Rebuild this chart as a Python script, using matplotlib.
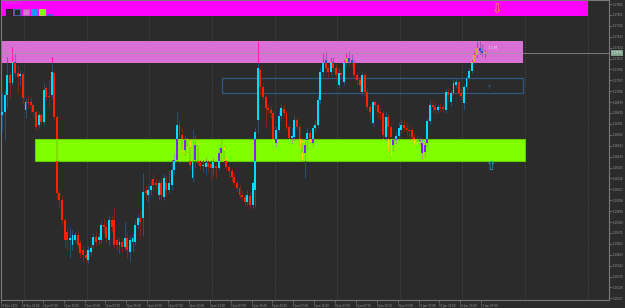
import matplotlib
matplotlib.use('Agg')
import matplotlib.pyplot as plt
import matplotlib.colors as mcolors
from matplotlib.patches import Rectangle
from matplotlib.transforms import blended_transform_factory
import numpy as np

# H1 candles (price per bar)
opens = [1.2685, 1.2688, 1.2705, 1.2725, 1.2717, 1.2738, 1.2727, 1.2724, 1.2726, 1.2690,
         1.2698, 1.2698, 1.2695, 1.2688, 1.2675, 1.2685, 1.2678, 1.2712, 1.2704, 1.2705,
         1.2727, 1.2683, 1.2607, 1.2600, 1.2580, 1.2568, 1.2560, 1.2555, 1.2560, 1.2565,
         1.2557, 1.2550, 1.2545, 1.2540, 1.2548, 1.2555, 1.2563, 1.2560, 1.2560, 1.2575,
         1.2573, 1.2560, 1.2580, 1.2580, 1.2560, 1.2555, 1.2558, 1.2553, 1.2562, 1.2548,
         1.2558, 1.2558, 1.2575, 1.2582, 1.2582, 1.2609, 1.2605, 1.2610, 1.2621, 1.2617,
         1.2605, 1.2617, 1.2603, 1.2617, 1.2610, 1.2615, 1.2630, 1.2640, 1.2675, 1.2665,
         1.2650, 1.2660, 1.2653, 1.2622, 1.2640, 1.2655, 1.2637, 1.2634, 1.2633, 1.2637,
         1.2636, 1.2632, 1.2634, 1.2632, 1.2647, 1.2650, 1.2640, 1.2633, 1.2629, 1.2623,
         1.2617, 1.2612, 1.2605, 1.2603, 1.2598, 1.2604, 1.2595, 1.2610, 1.2680, 1.2730,
         1.2713, 1.2703, 1.2692, 1.2690, 1.2687, 1.2657, 1.2670, 1.2684, 1.2691, 1.2687,
         1.2673, 1.2662, 1.2663, 1.2680, 1.2673, 1.2657, 1.2647, 1.2660, 1.2667, 1.2657,
         1.2672, 1.2675, 1.2700, 1.2728, 1.2740, 1.2732, 1.2728, 1.2738, 1.2732, 1.2715,
         1.2727, 1.2718, 1.2737, 1.2742, 1.2740, 1.2737, 1.2725, 1.2720, 1.2708, 1.2725,
         1.2708, 1.2693, 1.2677, 1.2698, 1.2695, 1.2688, 1.2687, 1.2663, 1.2683, 1.2673,
         1.2655, 1.2660, 1.2664, 1.2670, 1.2675, 1.2672, 1.2670, 1.2670, 1.2663, 1.2661,
         1.2659, 1.2647, 1.2648, 1.2657, 1.2679, 1.2695, 1.2693, 1.2690, 1.2693, 1.2693,
         1.2690, 1.2708, 1.2698, 1.2707, 1.2715, 1.2718, 1.2707, 1.2697, 1.2713, 1.2722,
         1.2729, 1.2738, 1.2745, 1.2752, 1.2749, 1.2747]
closes = [1.2688, 1.2705, 1.2725, 1.2717, 1.2738, 1.2727, 1.2723, 1.2726, 1.2702, 1.2698,
          1.2697, 1.2695, 1.2688, 1.2673, 1.2685, 1.2678, 1.2710, 1.2703, 1.2703, 1.2728,
          1.2683, 1.2607, 1.2600, 1.2580, 1.2560, 1.2560, 1.2562, 1.2565, 1.2565, 1.2555,
          1.2547, 1.2545, 1.2542, 1.2550, 1.2552, 1.2563, 1.2558, 1.2563, 1.2575, 1.2573,
          1.2562, 1.2580, 1.2573, 1.2555, 1.2555, 1.2558, 1.2553, 1.2562, 1.2550, 1.2560,
          1.2562, 1.2575, 1.2582, 1.2578, 1.2608, 1.2607, 1.2610, 1.2614, 1.2615, 1.2615,
          1.2617, 1.2605, 1.2622, 1.2610, 1.2617, 1.2630, 1.2640, 1.2675, 1.2665, 1.2650,
          1.2660, 1.2653, 1.2635, 1.2638, 1.2655, 1.2637, 1.2634, 1.2635, 1.2637, 1.2633,
          1.2632, 1.2638, 1.2632, 1.2647, 1.2652, 1.2640, 1.2633, 1.2629, 1.2623, 1.2617,
          1.2612, 1.2605, 1.2603, 1.2598, 1.2605, 1.2595, 1.2617, 1.2668, 1.2732, 1.2713,
          1.2703, 1.2692, 1.2690, 1.2687, 1.2660, 1.2670, 1.2684, 1.2692, 1.2687, 1.2673,
          1.2662, 1.2664, 1.2680, 1.2673, 1.2657, 1.2647, 1.2655, 1.2667, 1.2662, 1.2672,
          1.2675, 1.2700, 1.2728, 1.2737, 1.2732, 1.2728, 1.2738, 1.2732, 1.2725, 1.2727,
          1.2725, 1.2737, 1.2742, 1.2738, 1.2737, 1.2725, 1.2720, 1.2715, 1.2725, 1.2708,
          1.2693, 1.2688, 1.2698, 1.2695, 1.2688, 1.2687, 1.2665, 1.2683, 1.2673, 1.2663,
          1.2660, 1.2664, 1.2672, 1.2675, 1.2672, 1.2670, 1.2669, 1.2663, 1.2661, 1.2658,
          1.2660, 1.2657, 1.2655, 1.2679, 1.2695, 1.2693, 1.2690, 1.2693, 1.2692, 1.2691,
          1.2708, 1.2705, 1.2707, 1.2717, 1.2718, 1.2707, 1.2704, 1.2713, 1.2722, 1.2729,
          1.2738, 1.2745, 1.2752, 1.2749, 1.2747, 1.2747]
highs = [1.2707, 1.2710, 1.2743, 1.2728, 1.2753, 1.2746, 1.2735, 1.2730, 1.2728, 1.2702,
         1.2704, 1.2703, 1.2697, 1.2690, 1.2688, 1.2687, 1.2717, 1.2715, 1.2720, 1.2743,
         1.2730, 1.2685, 1.2610, 1.2605, 1.2582, 1.2572, 1.2572, 1.2570, 1.2568, 1.2568,
         1.2560, 1.2555, 1.2550, 1.2554, 1.2556, 1.2567, 1.2568, 1.2567, 1.2580, 1.2582,
         1.2578, 1.2585, 1.2584, 1.2593, 1.2564, 1.2562, 1.2562, 1.2578, 1.2568, 1.2564,
         1.2566, 1.2580, 1.2586, 1.2590, 1.2627, 1.2615, 1.2615, 1.2620, 1.2626, 1.2622,
         1.2620, 1.2622, 1.2626, 1.2624, 1.2630, 1.2640, 1.2645, 1.2688, 1.2680, 1.2672,
         1.2665, 1.2663, 1.2660, 1.2670, 1.2665, 1.2658, 1.2640, 1.2640, 1.2642, 1.2640,
         1.2640, 1.2642, 1.2637, 1.2652, 1.2660, 1.2654, 1.2643, 1.2635, 1.2632, 1.2628,
         1.2620, 1.2615, 1.2610, 1.2606, 1.2610, 1.2608, 1.2620, 1.2672, 1.2758, 1.2734,
         1.2717, 1.2707, 1.2696, 1.2694, 1.2690, 1.2674, 1.2690, 1.2696, 1.2695, 1.2690,
         1.2676, 1.2672, 1.2685, 1.2683, 1.2676, 1.2660, 1.2658, 1.2672, 1.2670, 1.2675,
         1.2680, 1.2705, 1.2732, 1.2747, 1.2748, 1.2736, 1.2742, 1.2742, 1.2736, 1.2732,
         1.2730, 1.2740, 1.2747, 1.2748, 1.2745, 1.2740, 1.2728, 1.2723, 1.2728, 1.2728,
         1.2712, 1.2696, 1.2700, 1.2700, 1.2698, 1.2692, 1.2690, 1.2688, 1.2686, 1.2676,
         1.2663, 1.2668, 1.2678, 1.2680, 1.2680, 1.2678, 1.2675, 1.2673, 1.2667, 1.2665,
         1.2663, 1.2660, 1.2657, 1.2682, 1.2700, 1.2700, 1.2697, 1.2696, 1.2697, 1.2696,
         1.2712, 1.2712, 1.2710, 1.2722, 1.2722, 1.2720, 1.2712, 1.2716, 1.2725, 1.2732,
         1.2740, 1.2748, 1.2758, 1.2758, 1.2755, 1.2750]
lows = [1.2670, 1.2660, 1.2692, 1.2702, 1.2715, 1.2724, 1.2707, 1.2715, 1.2696, 1.2682,
        1.2692, 1.2688, 1.2684, 1.2670, 1.2672, 1.2675, 1.2675, 1.2700, 1.2693, 1.2702,
        1.2680, 1.2600, 1.2593, 1.2575, 1.2552, 1.2550, 1.2542, 1.2550, 1.2557, 1.2552,
        1.2542, 1.2538, 1.2538, 1.2537, 1.2544, 1.2552, 1.2554, 1.2556, 1.2557, 1.2567,
        1.2558, 1.2555, 1.2568, 1.2552, 1.2550, 1.2547, 1.2548, 1.2550, 1.2542, 1.2538,
        1.2548, 1.2555, 1.2572, 1.2564, 1.2564, 1.2600, 1.2598, 1.2605, 1.2610, 1.2610,
        1.2600, 1.2600, 1.2600, 1.2604, 1.2607, 1.2610, 1.2625, 1.2638, 1.2660, 1.2648,
        1.2645, 1.2648, 1.2630, 1.2618, 1.2632, 1.2635, 1.2630, 1.2628, 1.2625, 1.2628,
        1.2620, 1.2625, 1.2622, 1.2630, 1.2640, 1.2638, 1.2630, 1.2622, 1.2618, 1.2614,
        1.2608, 1.2602, 1.2600, 1.2594, 1.2595, 1.2591, 1.2592, 1.2593, 1.2667, 1.2705,
        1.2700, 1.2673, 1.2686, 1.2682, 1.2655, 1.2654, 1.2668, 1.2680, 1.2682, 1.2670,
        1.2658, 1.2657, 1.2660, 1.2670, 1.2652, 1.2640, 1.2622, 1.2652, 1.2658, 1.2654,
        1.2668, 1.2672, 1.2696, 1.2724, 1.2728, 1.2722, 1.2725, 1.2728, 1.2720, 1.2712,
        1.2722, 1.2715, 1.2734, 1.2734, 1.2734, 1.2722, 1.2715, 1.2708, 1.2705, 1.2704,
        1.2690, 1.2682, 1.2674, 1.2691, 1.2682, 1.2680, 1.2660, 1.2660, 1.2650, 1.2643,
        1.2650, 1.2657, 1.2660, 1.2667, 1.2668, 1.2665, 1.2663, 1.2660, 1.2655, 1.2654,
        1.2655, 1.2642, 1.2644, 1.2654, 1.2676, 1.2688, 1.2686, 1.2687, 1.2688, 1.2688,
        1.2687, 1.2700, 1.2694, 1.2705, 1.2712, 1.2704, 1.2700, 1.2690, 1.2710, 1.2720,
        1.2727, 1.2736, 1.2743, 1.2746, 1.2744, 1.2743]

price_ticks = [1.27960, 1.27851, 1.27742, 1.27633, 1.27524, 1.27415, 1.27306, 1.27197,
               1.27088, 1.26979, 1.26870, 1.26761, 1.26652, 1.26543, 1.26434, 1.26325,
               1.26216, 1.26107, 1.25998, 1.25889, 1.25780, 1.25671, 1.25562, 1.25453,
               1.25344, 1.25235, 1.25126, 1.25017]
time_labels = ["29 Dec 2022", "29 Dec 15:00", "2 Jan 07:00", "2 Jan 15:00", "2 Jan 23:00",
               "3 Jan 07:00", "3 Jan 15:00", "3 Jan 23:00", "4 Jan 07:00", "4 Jan 15:00",
               "4 Jan 23:00", "5 Jan 07:00", "5 Jan 15:00", "5 Jan 23:00", "6 Jan 07:00",
               "6 Jan 15:00", "8 Jan 23:00", "9 Jan 07:00", "9 Jan 15:00", "9 Jan 23:00",
               "10 Jan 07:00", "10 Jan 15:00", "10 Jan 23:00", "11 Jan 07:00"]

# zone levels (price)
banner_zone = [1.2799, 1.2784]
supply_zone = [1.2759, 1.2737]
demand_zone = [1.26607, 1.26393]
range_box = [1.2722, 1.2707]

BG = '#2b2b2b'
BULL, BEAR = '#00dcff', '#ff2000'
BULL_W, BEAR_W = '#24507a', '#7a2814'
PINK, LIME, MAGENTA = '#da70d6', '#80ff00', '#ff00ff'
TXT = 1.9


def xor(c1, c2):
    a = [int(round(v * 255)) for v in mcolors.to_rgb(c1)]
    b = [int(round(v * 255)) for v in mcolors.to_rgb(c2)]
    return tuple((x ^ y) / 255 for x, y in zip(a, b))


def candles(ax, bull, bear, bull_w, bear_w, clip=None, z=3):
    o = np.array(opens)
    c = np.array(closes)
    x = np.arange(len(o))
    up = c >= o
    w = ax.vlines(x, lows, highs, colors=[bull_w if u else bear_w for u in up],
                  lw=0.75, zorder=z)
    bars = ax.bar(x, np.maximum(np.abs(c - o), 0.00006), bottom=np.minimum(o, c),
                  width=0.74, color=[bull if u else bear for u in up], lw=0, zorder=z + 0.1)
    if clip is not None:
        w.set_clip_path(clip)
        for b in bars:
            b.set_clip_path(clip)


fig = plt.figure(figsize=(6.25, 3.08), dpi=100, facecolor=BG)
ax = fig.add_axes([1 / 625, 8 / 308, 608 / 625, 300 / 308])
ax.set_facecolor(BG)

# bar index of the left / right edge of the plot
x0, x1 = -0.38, 232.6
ax.set_xlim(x0, x1)
ax.set_ylim(1.2500, 1.2800)

# vertical dotted grid
for k in range(10):
    ax.axvline(8.43 + 24 * k, color='#555555', lw=0.6, ls=(0, (1, 2)), zorder=0)

ax.add_patch(Rectangle((x0, banner_zone[1]), 224.9, banner_zone[0] - banner_zone[1],
                       facecolor=MAGENTA, lw=0, zorder=1))
pink = Rectangle((x0, supply_zone[1]), 200.0, supply_zone[0] - supply_zone[1],
                 facecolor=PINK, lw=0, zorder=1)
green = Rectangle((12.6, demand_zone[1]), 187.8, demand_zone[0] - demand_zone[1],
                  facecolor=LIME, edgecolor='#66cc00', lw=0.8, zorder=1)
ax.add_patch(pink)
ax.add_patch(green)
ax.add_patch(Rectangle((84.3, range_box[1]), 115.3, range_box[0] - range_box[1],
                       fill=False, edgecolor='#2a5a85', lw=0.9, zorder=2))

candles(ax, BULL, BEAR, BULL_W, BEAR_W, z=3)
# MT4 draws candles over background objects in XOR mode
for zone, col in [(pink, PINK), (green, LIME)]:
    candles(ax, xor(BULL, col), xor(BEAR, col), xor(BULL_W, col), xor(BEAR_W, col),
            clip=zone, z=4)

bid = closes[-1]
ax.axhline(bid, color='#9a9a9a', lw=0.7, alpha=0.7, zorder=5)

# markers / labels drawn by the indicator
ax.text(189.7, 1.27895, '⇩', color='#ffa040', fontsize=9, ha='center', va='center', zorder=6)
ax.text(187.4, 1.2633, '⇧', color='#30a8e0', fontsize=9, ha='center', va='center', zorder=6)
ax.text(186.6, 1.2712, '↑', color='#2f6e9a', fontsize=4, ha='center', va='center', zorder=6)
ax.text(186.2, 1.2752, '1-7-M', color='#f4d4f4', fontsize=2.6, ha='left', va='center', zorder=6)

# axes styling
for s in ax.spines.values():
    s.set_color('#7a7a7a')
    s.set_linewidth(0.8)
ax.yaxis.tick_right()
ax.set_yticks(price_ticks)
ax.set_yticklabels([f"{p:.5f}" for p in price_ticks])
ax.tick_params(axis='y', colors='#7a7a7a', labelcolor='#9a9a9a', labelsize=TXT,
               length=2, width=0.5, pad=1)
ax.set_xticks([8 * k - 0.4 for k in range(len(time_labels))])
ax.set_xticklabels(time_labels, ha='left')
ax.tick_params(axis='x', colors='#7a7a7a', labelcolor='#9a9a9a', labelsize=TXT,
               length=2, width=0.5, pad=1)

trans = blended_transform_factory(ax.transAxes, ax.transData)
ax.text(1.004, bid, f"{bid:.5f}", transform=trans, fontsize=TXT, color='#e8f0ea',
        ha='left', va='center', zorder=7,
        bbox=dict(boxstyle='square,pad=0.3', facecolor='#7f9f8a', edgecolor='none'))

# top-left chart header: symbol text and coloured buttons
def px(x, y):
    return x / 625, 1 - y / 308

fig.text(*px(5, 3.5), 'GBPUSD,H1', fontsize=2.2, color='#c850c8', va='center', ha='left')
for x, face, edge in [(6, '#2b2b2b', '#1a1a1a'), (14, '#2b2b2b', '#3a6ea5'),
                      (23, '#d878d8', '#c060c0'), (31, '#2196f3', '#2196f3'),
                      (39, '#80ff00', '#c0e040')]:
    fig.add_artist(Rectangle(px(x, 15), 6 / 625, 6 / 308, transform=fig.transFigure,
                             facecolor=face, edgecolor=edge, lw=0.6))
fig.add_artist(Rectangle(px(47, 15.5), 6 / 625, 1.5 / 308, transform=fig.transFigure,
                         facecolor='#4a5ad0', lw=0))

fig.savefig('out.png', dpi=100, facecolor=BG)
